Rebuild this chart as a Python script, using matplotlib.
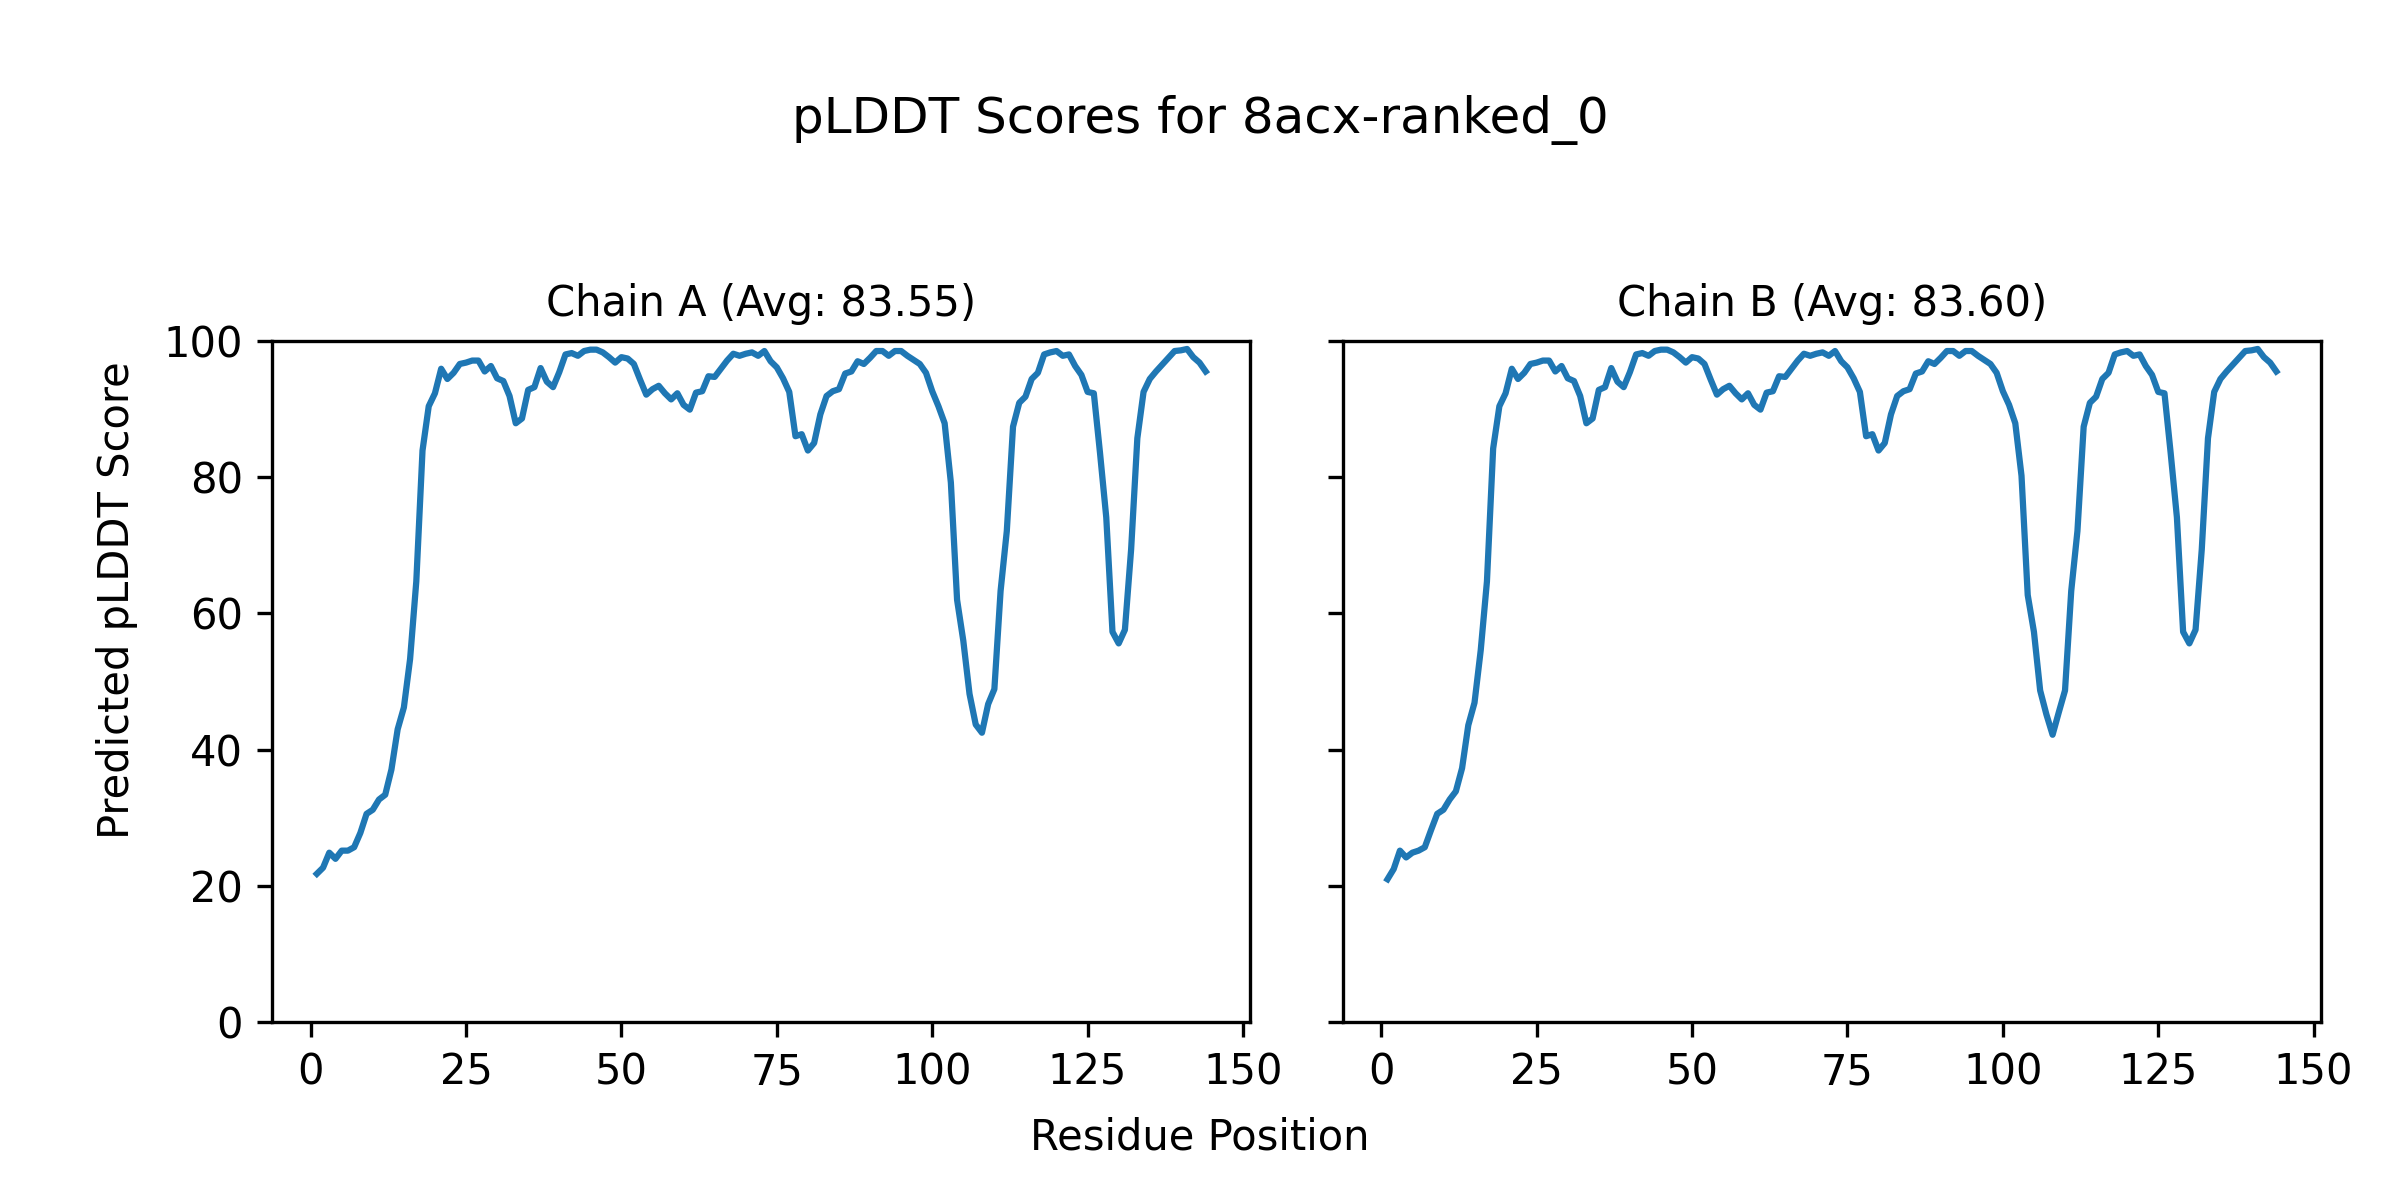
import numpy as np
import matplotlib
matplotlib.use('Agg')
import matplotlib.pyplot as plt
from matplotlib.ticker import MultipleLocator

# residue positions and pLDDT scores per chain
residues = np.arange(1, 145)

chain_a_scores = [
    21.8, 22.7, 24.9, 24.0, 25.2, 25.2, 25.7, 27.8, 30.6, 31.2,
    32.7, 33.4, 37.1, 43.0, 46.2, 53.3, 64.7, 83.9, 90.4, 92.3,
    95.9, 94.4, 95.3, 96.6, 96.8, 97.1, 97.1, 95.5, 96.3, 94.5,
    94.1, 91.9, 87.9, 88.6, 92.8, 93.2, 96.0, 94.0, 93.2, 95.4,
    98.0, 98.2, 97.8, 98.5, 98.7, 98.7, 98.3, 97.6, 96.8, 97.6,
    97.4, 96.6, 94.3, 92.1, 92.9, 93.4, 92.3, 91.4, 92.3, 90.6,
    89.9, 92.4, 92.6, 94.8, 94.7, 95.9, 97.1, 98.1, 97.8, 98.1,
    98.3, 97.8, 98.5, 97.0, 96.1, 94.5, 92.5, 86.0, 86.3, 83.9,
    85.0, 89.2, 91.9, 92.6, 92.9, 95.2, 95.5, 97.0, 96.6, 97.5,
    98.5, 98.5, 97.8, 98.5, 98.5, 97.8, 97.2, 96.6, 95.3, 92.6,
    90.4, 87.9, 79.2, 62.0, 56.0, 48.2, 43.7, 42.5, 46.7, 48.9,
    63.3, 72.1, 87.4, 90.9, 91.8, 94.4, 95.3, 98.0, 98.3, 98.5,
    97.8, 98.0, 96.3, 95.0, 92.5, 92.3, 83.5, 74.1, 57.3, 55.6,
    57.6, 69.4, 85.7, 92.5, 94.4, 95.5, 96.5, 97.5, 98.5, 98.6,
    98.8, 97.6, 96.8, 95.5,
]

chain_b_scores = [
    21.0, 22.5, 25.2, 24.2, 24.9, 25.2, 25.7, 28.2, 30.6, 31.2,
    32.7, 33.9, 37.3, 43.6, 46.9, 54.6, 64.7, 84.2, 90.4, 92.3,
    95.9, 94.4, 95.3, 96.6, 96.8, 97.1, 97.1, 95.5, 96.3, 94.5,
    94.1, 91.9, 87.9, 88.6, 92.8, 93.2, 96.0, 94.0, 93.2, 95.4,
    98.0, 98.2, 97.8, 98.5, 98.7, 98.7, 98.3, 97.6, 96.8, 97.6,
    97.4, 96.6, 94.3, 92.1, 92.9, 93.4, 92.3, 91.4, 92.3, 90.6,
    89.9, 92.4, 92.6, 94.8, 94.7, 95.9, 97.1, 98.1, 97.8, 98.1,
    98.3, 97.8, 98.5, 97.0, 96.1, 94.5, 92.5, 86.0, 86.3, 83.9,
    85.0, 89.2, 91.9, 92.6, 92.9, 95.2, 95.5, 97.0, 96.6, 97.5,
    98.5, 98.5, 97.8, 98.5, 98.5, 97.8, 97.2, 96.6, 95.3, 92.6,
    90.6, 87.9, 80.2, 62.7, 57.3, 48.7, 45.2, 42.2, 45.5, 48.7,
    63.3, 72.1, 87.4, 90.9, 91.8, 94.4, 95.3, 98.0, 98.3, 98.5,
    97.8, 98.0, 96.3, 95.0, 92.5, 92.3, 83.5, 74.1, 57.3, 55.6,
    57.6, 69.4, 85.7, 92.5, 94.4, 95.5, 96.5, 97.5, 98.5, 98.6,
    98.8, 97.6, 96.8, 95.5,
]

chain_names = ['A', 'B']
chain_avgs = ['83.55', '83.60']
model_name = '8acx-ranked_0'

fig, axes = plt.subplots(1, 2, figsize=(8, 4), sharey=True)
fig.subplots_adjust(left=0.1135, right=0.967, bottom=0.148, top=0.716, wspace=0.095)

for ax, name, avg, scores in zip(axes, chain_names, chain_avgs, [chain_a_scores, chain_b_scores]):
    ax.plot(residues, scores, color='#1f77b4', linewidth=1.5)
    ax.set_title(f'Chain {name} (Avg: {avg})', fontsize=10)
    ax.set_ylim(0, 100)
    ax.xaxis.set_major_locator(MultipleLocator(25))
    ax.tick_params(labelsize=10)

# axis labels and overall title
fig.text(0.04, 0.5, 'Predicted pLDDT Score', rotation='vertical', va='center', fontsize=10)
fig.text(0.5, 0.052, 'Residue Position', ha='center', va='center', fontsize=10)
fig.suptitle(f'pLDDT Scores for {model_name}', fontsize=12, y=0.9, va='center')

plt.savefig('out.png', dpi=300)
